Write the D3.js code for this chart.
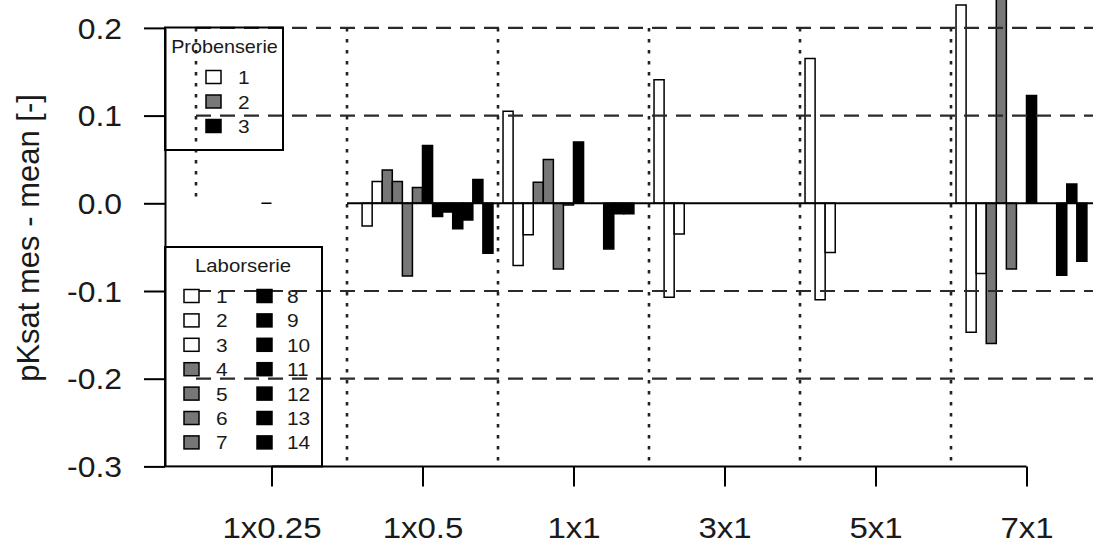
<!DOCTYPE html>
<html lang="de">
<head>
<meta charset="UTF-8">
<title>pKsat mes - mean</title>
<script src="https://cdn.jsdelivr.net/npm/d3@7"></script>
<style>
    body { margin: 0; background: #fff; }
    svg text { font-family: "Liberation Sans", Arial, sans-serif; font-weight: normal; fill: #1a1a1a; }
</style>
</head>
<body>
<svg id="chart"></svg>
<script>
    // Versuchsgruppen auf der x-Achse
    const categories = ['1x0.25', '1x0.5', '1x1', '3x1', '5x1', '7x1'];
    // Laborserie 1..14 und zugehoerige Probenserie
    const laborserie = [1, 2, 3, 4, 5, 6, 7, 8, 9, 10, 11, 12, 13, 14];
    const probeOfLabor = [1, 1, 1, 2, 2, 2, 2, 3, 3, 3, 3, 3, 3, 3];
    const probenserie = [1, 2, 3];
    const probeColors = ['#ffffff', '#777777', '#000000'];

    // pKsat mes - mean je Laborserie (null = kein Wert)
    const vals_1x025 = [null, null, null, null, null, null, 0, null, null, null, null, null, null, null];
    const vals_1x05 = [null, -0.026, 0.025, 0.038, 0.025, -0.083, 0.018, 0.066, -0.015, -0.010, -0.029, -0.019, 0.027, -0.057];
    const vals_1x1 = [0.105, -0.071, -0.036, 0.024, 0.050, -0.075, -0.002, 0.070, null, null, -0.052, -0.012, -0.012, null];
    const vals_3x1 = [0.141, -0.107, -0.035, null, null, null, null, null, null, null, null, null, null, null];
    const vals_5x1 = [0.165, -0.110, -0.056, null, null, null, null, null, null, null, null, null, null, null];
    const vals_7x1 = [0.226, -0.147, -0.080, -0.160, 0.300, -0.075, null, 0.123, null, null, -0.082, 0.022, -0.066, null];
    const groupValues = [vals_1x025, vals_1x05, vals_1x1, vals_3x1, vals_5x1, vals_7x1];

    const yTicks = [-0.3, -0.2, -0.1, 0.0, 0.1, 0.2];
    const dashedLevels = [-0.2, -0.1, 0.1, 0.2];

    const W = 1093, H = 544;
    const svg = d3.select('#chart').attr('width', W).attr('height', H);

    // x in Balken-Einheiten (14 Balken + 1 Luecke je Gruppe)
    const perGroup = laborserie.length + 1;
    const x = d3.scaleLinear().domain([0.5, 5 * perGroup + 0.5]).range([196, 951]);
    const y = d3.scaleLinear().domain([-0.3, 0.2]).range([466.4, 27.9]);
    const SX = 1.1; // Text ist im Original horizontal gestreckt

    const bars = [];
    groupValues.forEach(function (vals, g) {
        vals.forEach(function (v, i) {
            if (v === null) return;
            bars.push({g: g, i: i, value: v, probe: probeOfLabor[i]});
        });
    });

    // Balken
    svg.append('g').selectAll('path')
        .data(bars)
        .enter().append('path')
        .attr('d', function (d) {
            const x0 = x(d.g * perGroup + 1 + d.i), x1 = x(d.g * perGroup + 2 + d.i);
            return 'M' + x0 + ',' + y(0) + 'V' + y(d.value) + 'H' + x1 + 'V' + y(0) + 'Z';
        })
        .attr('fill', function (d) { return probeColors[d.probe - 1]; })
        .attr('stroke', '#000')
        .attr('stroke-width', 1.5);

    // Nulllinie ab zweiter Gruppe
    svg.append('line')
        .attr('x1', x(perGroup + 0.5)).attr('x2', W)
        .attr('y1', y(0)).attr('y2', y(0))
        .attr('stroke', '#000').attr('stroke-width', 2);

    // gestrichelte Hilfslinien
    svg.append('g').selectAll('line')
        .data(dashedLevels)
        .enter().append('line')
        .attr('x1', x(0.5)).attr('x2', W)
        .attr('y1', function (d) { return y(d); })
        .attr('y2', function (d) { return y(d); })
        .attr('stroke', '#2a2a2a').attr('stroke-width', 2.2)
        .attr('stroke-dasharray', '15,9');

    // gepunktete Gruppentrenner
    svg.append('g').selectAll('line')
        .data(d3.range(categories.length))
        .enter().append('line')
        .attr('x1', function (g) { return x(g * perGroup + 0.5); })
        .attr('x2', function (g) { return x(g * perGroup + 0.5); })
        .attr('y1', y(0.2))
        .attr('y2', function (g) { return g === 0 ? y(0) : y(-0.3); })
        .attr('stroke', '#222').attr('stroke-width', 2.6)
        .attr('stroke-dasharray', '3.5,7.5');

    // y-Achse
    const yAxis = svg.append('g')
        .attr('transform', 'translate(165,0)')
        .call(d3.axisLeft(y).tickValues(yTicks).tickSize(21).tickSizeOuter(0)
            .tickFormat(function (d) { return d.toFixed(1); }));
    yAxis.select('.domain').attr('stroke-width', 2);
    yAxis.selectAll('.tick line').attr('stroke-width', 2);
    yAxis.selectAll('.tick text')
        .attr('font-size', 29)
        .attr('x', -43 / SX)
        .attr('dy', '0.35em')
        .attr('transform', 'scale(' + SX + ',1)');

    // x-Achse
    const centers = categories.map(function (c, g) { return g * perGroup + 8; });
    const xAxis = svg.append('g')
        .attr('transform', 'translate(0,' + y(-0.3) + ')')
        .call(d3.axisBottom(x).tickValues(centers).tickSize(20)
            .tickFormat(function (d, i) { return categories[i]; }));
    xAxis.select('.domain').remove();
    xAxis.append('line')
        .attr('x1', x(centers[0])).attr('x2', x(centers[centers.length - 1]))
        .attr('stroke', '#000').attr('stroke-width', 2);
    xAxis.selectAll('.tick line').attr('stroke-width', 2);
    xAxis.selectAll('.tick text')
        .attr('font-size', 30)
        .attr('y', 0).attr('dy', 0)
        .attr('transform', 'translate(0,72) scale(' + SX + ',1)');

    // y-Beschriftung
    svg.append('text')
        .attr('transform', 'translate(39,238) rotate(-90)')
        .attr('text-anchor', 'middle')
        .attr('font-size', 31)
        .text('pKsat mes - mean [-]');

    function stretched(sel, tx, ty) {
        return sel.attr('transform', 'translate(' + tx + ',' + ty + ') scale(' + SX + ',1)');
    }

    // Legende Probenserie
    const leg1 = svg.append('g');
    leg1.append('rect').attr('x', 165).attr('y', 27.5).attr('width', 118).attr('height', 122.5)
        .attr('fill', 'none').attr('stroke', '#000').attr('stroke-width', 2);
    stretched(leg1.append('text'), 224.5, 52.7).attr('text-anchor', 'middle')
        .attr('font-size', 18).text('Probenserie');
    probenserie.forEach(function (p, k) {
        const ry = 77 + k * 24.5;
        leg1.append('rect').attr('x', 206).attr('y', ry - 6.5).attr('width', 15).attr('height', 13)
            .attr('fill', probeColors[k]).attr('stroke', '#000').attr('stroke-width', 1.5);
        stretched(leg1.append('text'), 238, ry + 7).attr('font-size', 19).text(p);
    });

    // Legende Laborserie
    const leg2 = svg.append('g');
    leg2.append('rect').attr('x', 165).attr('y', 247).attr('width', 157).attr('height', 219.4)
        .attr('fill', 'none').attr('stroke', '#000').attr('stroke-width', 2);
    stretched(leg2.append('text'), 243, 271.7).attr('text-anchor', 'middle')
        .attr('font-size', 18.5).text('Laborserie');
    laborserie.forEach(function (l, k) {
        const col = k < 7 ? 0 : 1;
        const ry = 296 + (k % 7) * 24.4;
        leg2.append('rect').attr('x', col ? 257 : 184).attr('y', ry - 6.5).attr('width', 15).attr('height', 13)
            .attr('fill', probeColors[probeOfLabor[k] - 1]).attr('stroke', '#000').attr('stroke-width', 1.5);
        stretched(leg2.append('text'), col ? 287 : 216, ry + 7).attr('font-size', 19).text(l);
    });
</script>
</body>
</html>
